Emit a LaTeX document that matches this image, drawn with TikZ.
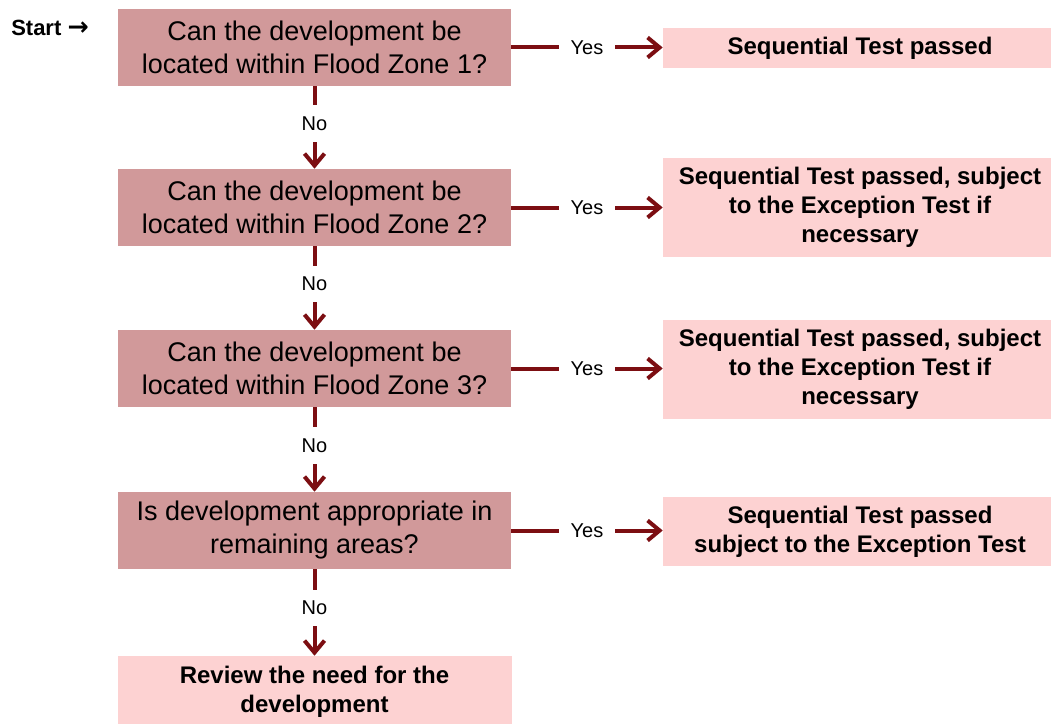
\documentclass[tikz,border=0pt]{standalone}
\usepackage{fontspec}
\setmainfont{Liberation Sans}
\newfontfamily\arrowfont{DejaVu Sans}
\usetikzlibrary{arrows.meta}
\definecolor{qfill}{RGB}{209,153,154}
\definecolor{afill}{RGB}{253,210,210}
\definecolor{lnk}{RGB}{124,14,18}
\begin{document}
\begin{tikzpicture}[x=0.75pt,y=-0.75pt]
	\tikzset{
		every node/.style={inner sep=0pt},
		%
		qbox/.style={fill=qfill,minimum width=294.75pt,minimum height=57.75pt,align=center,font=\fontsize{20.25}{24.75}\selectfont},
		%
		abox/.style={fill=afill,minimum width=295.5pt,align=center,font=\fontsize{18}{21.75}\selectfont\bfseries},
		%
		lbl/.style={fill=white,inner xsep=9pt,inner ysep=8.5pt,font=\fontsize{15}{18}\selectfont},
		%
		link/.style={draw=lnk,line width=3pt,-{Straight Barb[length=9pt,width=15pt]}},
	}
	\clip (0,0) rectangle (1051,724);
	%
	\node[anchor=base west,font=\fontsize{16.5}{19}\selectfont\bfseries] (st) at (11,36) {Start {\arrowfont\fontsize{19}{19}\selectfont →}};
	% cau hoi
	\node[qbox] (q1) at (314.5,47.5) {Can the development be\\located within Flood Zone 1?};
	\node[qbox] (q2) at (314.5,207.5) {Can the development be\\located within Flood Zone 2?};
	\node[qbox] (q3) at (314.5,368.5) {Can the development be\\located within Flood Zone 3?};
	\node[qbox] (q4) at (314.5,530.5) {Is development appropriate in\\remaining areas?};
	% ket qua
	\node[abox,minimum height=30pt] (a1) at (860,48) {Sequential Test passed};
	\node[abox,minimum height=74.25pt] (a2) at (860,207.5) {Sequential Test passed, subject\\to the Exception Test if\\necessary};
	\node[abox,minimum height=74.25pt] (a3) at (860,369) {Sequential Test passed, subject\\to the Exception Test if\\necessary};
	\node[abox,minimum height=51.75pt] (a4) at (860,531.5) {Sequential Test passed\\subject to the Exception Test};
	\node[abox,minimum height=54pt] (rv) at (314.5,692) {Review the need for the\\development};
	%
	\draw[link] (q1.east) -- node[lbl]{Yes} (q1.east -| a1.west);
	\draw[link] (q2.east) -- node[lbl]{Yes} (q2.east -| a2.west);
	\draw[link] (q3.east) -- node[lbl]{Yes} (q3.east -| a3.west);
	\draw[link] (q4.east) -- node[lbl]{Yes} (q4.east -| a4.west);
	%
	\draw[link] (q1) -- node[lbl,pos=.45]{No} (q2);
	\draw[link] (q2) -- node[lbl,pos=.45]{No} (q3);
	\draw[link] (q3) -- node[lbl,pos=.45]{No} (q4);
	\draw[link] (q4) -- node[lbl,pos=.45]{No} (rv);
\end{tikzpicture}
\end{document}
